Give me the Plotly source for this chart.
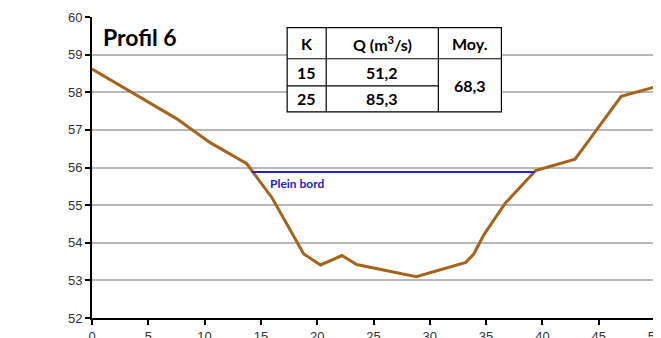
import plotly.graph_objects as go

# profil en travers (distance m, cote m)
dist = [0, 7.5, 10.5, 13.75, 16.0, 18.8, 20.3, 22.2, 23.5, 28.8, 33.2, 33.9, 34.8, 36.7, 39.4, 42.9, 47.0, 50.0]
cote = [58.62, 57.3, 56.66, 56.1, 55.19, 53.7, 53.41, 53.66, 53.42, 53.1, 53.48, 53.7, 54.21, 55.05, 55.92, 56.22, 57.89, 58.14]

plein_bord_x = [14.2, 39.3]
plein_bord_y = 55.88

# tableau
tab_header = ["K", "Q (m<sup>3</sup>/s)", "Moy."]
tab_k = ["15", "25"]
tab_q = ["51,2", "85,3"]
tab_moy = "68,3"

brown = "#A5631B"
blue = "#2424C8"
txt_font = "Lato"

fig = go.Figure()
fig.add_trace(go.Scatter(x=dist, y=cote, mode="lines", line=dict(color=brown, width=3), hoverinfo="skip"))
fig.add_trace(go.Scatter(x=plein_bord_x, y=[plein_bord_y] * 2, mode="lines",
                         line=dict(color=blue, width=2), hoverinfo="skip"))

fig.add_annotation(x=15.6, y=plein_bord_y - 0.06, text="<b>Plein bord</b>", showarrow=False,
                   xanchor="left", yanchor="top", font=dict(family=txt_font, size=12, color=blue))
fig.add_annotation(x=0.8, y=59.48, text="<b>Profil 6</b>", showarrow=False,
                   xanchor="left", yanchor="middle", font=dict(family=txt_font, size=23, color="black"))

# table frame
cols = [17.33, 20.8, 30.76, 36.36]
rows = [59.72, 58.89, 58.17, 57.48]
line = dict(color="black", width=1.2)
fig.add_shape(type="rect", x0=cols[0], x1=cols[3], y0=rows[3], y1=rows[0], line=line, fillcolor="white", layer="above")
for cx in cols[1:3]:
    fig.add_shape(type="line", x0=cx, x1=cx, y0=rows[3], y1=rows[0], line=line)
fig.add_shape(type="line", x0=cols[0], x1=cols[3], y0=rows[1], y1=rows[1], line=line)
fig.add_shape(type="line", x0=cols[0], x1=cols[2], y0=rows[2], y1=rows[2], line=line)

tf = dict(family=txt_font, size=16, color="black")
for i, h in enumerate(tab_header):
    fig.add_annotation(x=(cols[i] + cols[i + 1]) / 2, y=(rows[0] + rows[1]) / 2, text="<b>" + h + "</b>",
                       showarrow=False, font=tf)
for r in range(2):
    yc = (rows[r + 1] + rows[r + 2]) / 2
    fig.add_annotation(x=(cols[0] + cols[1]) / 2, y=yc, text="<b>" + tab_k[r] + "</b>", showarrow=False, font=tf)
    fig.add_annotation(x=(cols[1] + cols[2]) / 2, y=yc, text="<b>" + tab_q[r] + "</b>", showarrow=False, font=tf)
fig.add_annotation(x=(cols[2] + cols[3]) / 2, y=(rows[1] + rows[3]) / 2, text="<b>" + tab_moy + "</b>",
                   showarrow=False, font=tf)

# page body has 8px margin, so the figure is a bit smaller than the window
fig.update_layout(
    width=653, height=330, margin=dict(l=84, r=6, t=9, b=20),
    plot_bgcolor="white", paper_bgcolor="white", showlegend=False,
    font=dict(family="Arial", size=13, color="#333333"),
)
fig.update_xaxes(range=[0, 50], dtick=5, showgrid=False, showline=True, linecolor="black", linewidth=2,
                 ticks="outside", ticklen=5, tickwidth=1.5, tickcolor="black", zeroline=False, automargin=False,
                 ticklabeloverflow="allow")
fig.update_yaxes(range=[52, 60], dtick=1, showgrid=True, gridcolor="#B8B8B8", gridwidth=1.5,
                 showline=True, linecolor="black", linewidth=2,
                 ticks="outside", ticklen=5, tickwidth=1.5, tickcolor="black", zeroline=False, automargin=False)

fig.write_html("out.html")
